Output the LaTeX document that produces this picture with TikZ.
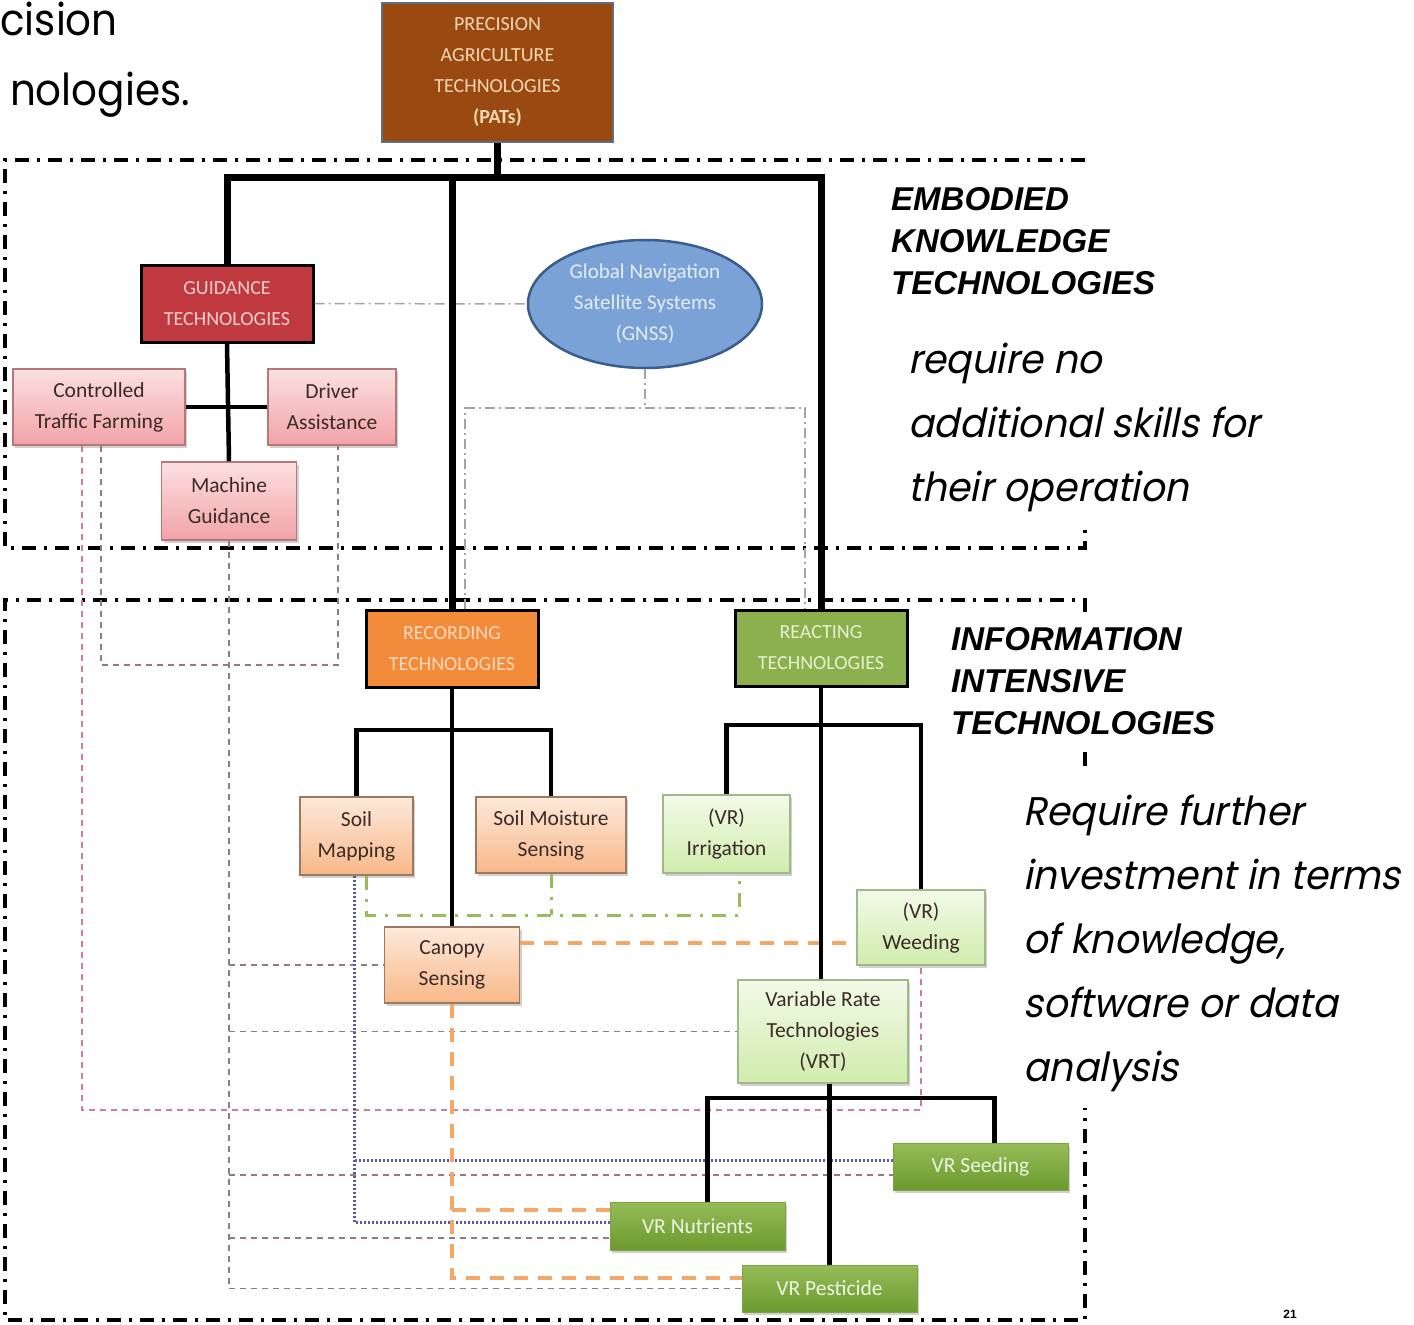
\documentclass[tikz,border=0pt]{standalone}
\usepackage{fontspec}
\setmainfont{Carlito}
\newfontfamily\headfont{Liberation Sans}
\newfontfamily\gothic[FakeStretch=0.92]{Poppins}
\newfontfamily\gothicit[FakeSlant=0.2,FakeStretch=0.95]{Poppins}
\usetikzlibrary{shadows,calc,shapes.geometric}

\definecolor{patsfill}{HTML}{9A4A10}
\definecolor{patsedge}{HTML}{5F6E80}
\definecolor{patstext}{HTML}{F4D7B5}
\definecolor{guidfill}{HTML}{C0393F}
\definecolor{guidtext}{HTML}{F8CFCF}
\definecolor{recfill}{HTML}{F28B3A}
\definecolor{rectext}{HTML}{FCDAC0}
\definecolor{reafill}{HTML}{8DB04F}
\definecolor{reatext}{HTML}{E4F0D0}
\definecolor{gnssfill}{HTML}{7AA2D6}
\definecolor{gnssedge}{HTML}{3C5C8C}
\definecolor{gnsstext}{HTML}{E4EDF8}
\definecolor{pinktop}{HTML}{FCE0E0}
\definecolor{pinkbot}{HTML}{F2A3A7}
\definecolor{pinkedge}{HTML}{B5787A}
\definecolor{peachtop}{HTML}{FDE9DA}
\definecolor{peachbot}{HTML}{F8B888}
\definecolor{peachedge}{HTML}{9C7A62}
\definecolor{lgtop}{HTML}{F2FAE8}
\definecolor{lgbot}{HTML}{D0ECAC}
\definecolor{lgedge}{HTML}{A2B88C}
\definecolor{dgtop}{HTML}{95BC58}
\definecolor{dgbot}{HTML}{6C9A2E}
\definecolor{dgtext}{HTML}{EEF5E2}
\definecolor{darktext}{HTML}{3A2A28}
\definecolor{pinkline}{HTML}{C98090}
\definecolor{mauveline}{HTML}{957888}
\definecolor{blueline}{HTML}{5858B0}
\definecolor{orangeline}{HTML}{F5A865}
\definecolor{greenline}{HTML}{9BBB59}
\definecolor{grayline}{HTML}{A4A4A4}

\begin{document}
\begin{tikzpicture}[x=1pt,y=-1pt,
  boxtext/.style={align=center, inner sep=0pt, font=\fontsize{21.5}{31}\selectfont},
  shade/.style={drop shadow={shadow xshift=2pt, shadow yshift=-3pt, opacity=0.3, fill=black!60}},
  headbox/.style={boxtext, rectangle, draw=black, line width=3pt},
  pinkbox/.style={boxtext, rectangle, shade, draw=pinkedge, line width=1.5pt, top color=pinktop, bottom color=pinkbot, text=darktext},
  peachbox/.style={boxtext, rectangle, shade, draw=peachedge, line width=1.5pt, top color=peachtop, bottom color=peachbot, text=darktext},
  lgbox/.style={boxtext, rectangle, shade, draw=lgedge, line width=1.5pt, top color=lgtop, bottom color=lgbot, text=darktext},
  dgbox/.style={boxtext, rectangle, shade, draw=dgbot!90, line width=0.8pt, top color=dgtop, bottom color=dgbot, text=dgtext},
  frame/.style={draw=black, line width=3.5pt, dash pattern=on 14pt off 8pt on 3pt off 8pt},
  mainline/.style={draw=black, line width=7pt},
  subline/.style={draw=black, line width=4.5pt},
  gnssline/.style={draw=grayline, line width=1.5pt, dash pattern=on 10pt off 4pt on 2pt off 4pt},
  pinkdash/.style={draw=pinkline, line width=1.8pt, dash pattern=on 6pt off 5pt},
  mauvedash/.style={draw=mauveline, line width=1.8pt, dash pattern=on 6pt off 5pt},
  bluedot/.style={draw=blueline, line width=3pt, dash pattern=on 2pt off 2pt},
  orangedash/.style={draw=orangeline, line width=3.5pt, dash pattern=on 14pt off 10pt},
  greendd/.style={draw=greenline, line width=3pt, dash pattern=on 14pt off 9pt on 3pt off 9pt},
  gothicline/.style={anchor=base west, inner sep=0pt, font=\gothicit\fontsize{40}{40}\selectfont},
  grouplabel/.style={anchor=base west, inner sep=0pt, font=\headfont\bfseries\itshape\fontsize{33}{33}\selectfont}
]
\useasboundingbox (0,0) rectangle (1414,1325);

% heading fragments at the top left
\node[anchor=base east, inner sep=0pt, font=\gothic\fontsize{44}{44}\selectfont] (h1) at (118,35) {cision};
\node[anchor=base east, inner sep=0pt, font=\gothic\fontsize{44}{44}\selectfont] (h2) at (190,105) {nologies.};

% group frames
\draw[frame] (1085,160) -- (5,160) -- (5,548) -- (1085,548) -- (1085,528);
\draw[frame] (1085,612) -- (1085,600) -- (5,600) -- (5,1320) -- (1085,1320) -- (1085,1108);
\draw[frame] (1085,752) -- (1085,766);

% nodes
\node[headbox, fill=patsfill, draw=patsedge, line width=2.5pt, text=patstext, minimum width=231pt, minimum height=139pt, font=\fontsize{20}{31}\selectfont] (pats) at (497.5,72.5) {PRECISION\\AGRICULTURE\\TECHNOLOGIES\\\textbf{(PATs)}};
\node[headbox, fill=guidfill, text=guidtext, minimum width=172pt, minimum height=77pt, font=\fontsize{20}{31}\selectfont] (guid) at (227,303.5) {GUIDANCE\\TECHNOLOGIES};
\node[pinkbox, minimum width=172pt, minimum height=76pt] (ctf) at (99,407) {Controlled\\Traffic Farming};
\node[pinkbox, minimum width=128pt, minimum height=76pt] (drv) at (332,407) {Driver\\Assistance};
\node[pinkbox, minimum width=135pt, minimum height=78pt] (mach) at (229,501) {Machine\\Guidance};
\node[ellipse, draw=gnssedge, line width=2.5pt, fill=gnssfill, text=gnsstext, minimum width=234pt, minimum height=128pt, inner sep=0pt, align=center, font=\fontsize{21}{31}\selectfont] (gnss) at (645,304) {Global Navigation\\Satellite Systems\\(GNSS)};
\node[headbox, fill=recfill, text=rectext, minimum width=172pt, minimum height=77pt, font=\fontsize{20}{31}\selectfont] (rec) at (452,648.5) {RECORDING\\TECHNOLOGIES};
\node[headbox, fill=reafill, text=reatext, minimum width=172pt, minimum height=76pt, font=\fontsize{20}{31}\selectfont] (rea) at (821,648) {REACTING\\TECHNOLOGIES};
\node[peachbox, minimum width=113pt, minimum height=78pt] (soilmap) at (356.5,836) {Soil\\Mapping};
\node[peachbox, minimum width=150pt, minimum height=76pt] (soilmoist) at (551,835) {Soil Moisture\\Sensing};
\node[lgbox, minimum width=127pt, minimum height=78pt] (irr) at (726.5,834) {(VR)\\Irrigation};
\node[lgbox, minimum width=128pt, minimum height=75pt] (weed) at (921,927.5) {(VR)\\Weeding};
\node[peachbox, minimum width=135pt, minimum height=76pt] (canopy) at (452,965) {Canopy\\Sensing};
\node[lgbox, minimum width=170pt, minimum height=103pt] (vrt) at (823,1031.5) {Variable Rate\\Technologies\\(VRT)};
\node[dgbox, minimum width=175pt, minimum height=47pt] (seed) at (980.5,1166.5) {VR Seeding};
\node[dgbox, minimum width=175pt, minimum height=48pt] (nutr) at (697.5,1226) {VR Nutrients};
\node[dgbox, minimum width=175pt, minimum height=47pt] (pest) at (829.5,1288.5) {VR Pesticide};

% side notes
\node[grouplabel] (e1) at (891,210) {EMBODIED};
\node[grouplabel] (e2) at (891,252) {KNOWLEDGE};
\node[grouplabel] (e3) at (891,294) {TECHNOLOGIES};
\node[gothicline] (r1) at (908,373) {require no};
\node[gothicline] (r2) at (908,437) {additional skills for};
\node[gothicline] (r3) at (908,501) {their operation};
\node[grouplabel] (i1) at (951,650) {INFORMATION};
\node[grouplabel] (i2) at (951,692) {INTENSIVE};
\node[grouplabel] (i3) at (951,734) {TECHNOLOGIES};
\node[gothicline] (q1) at (1023,825) {Require further};
\node[gothicline] (q2) at (1023,889) {investment in terms};
\node[gothicline] (q3) at (1023,953) {of knowledge,};
\node[gothicline] (q4) at (1023,1017) {software or data};
\node[gothicline] (q5) at (1023,1081) {analysis};
\node[anchor=north, inner sep=0pt, font=\headfont\bfseries\fontsize{12}{12}\selectfont] (pg) at (1290,1310) {21};

% links from the GNSS
\draw[gnssline] (guid.east) -- (gnss.west);
\coordinate (gj) at (645,408);
\draw[gnssline] (gnss.south) -- (gj);
\draw[gnssline] ([xshift=13pt]rec.north) |- (gj) -| ([xshift=-16pt]rea.north);

% cross links between the guidance technologies and the rest
\coordinate (pa) at (921,1110);
\draw[pinkdash] ([xshift=-17pt]ctf.south) |- (pa) -- (weed.south);
\coordinate (pb) at (338,665);
\draw[mauvedash] ([xshift=2pt]ctf.south) |- (pb) -- ([xshift=6pt]drv.south);
\draw[mauvedash] (mach.south) |- (pest.west);
\draw[mauvedash] (mach.south |- canopy.west) -- (canopy.west);
\draw[mauvedash] (mach.south |- vrt.west) -- (vrt.west);
\draw[mauvedash] (mach.south |- 0,1175) -- (seed.west |- 0,1175);
\draw[mauvedash] (mach.south |- 0,1238) -- (nutr.west |- 0,1238);

% soil mapping links
\draw[bluedot] ([xshift=-2pt]soilmap.south) |- (nutr.west |- 0,1222);
\draw[bluedot] ([xshift=-2pt]soilmap.south |- 0,1160) -- (seed.west |- 0,1160);
\draw[greendd] ([xshift=10pt]soilmap.south) |- ([xshift=13pt]irr.south |- 0,915) -- ([xshift=13pt]irr.south);
\draw[greendd] (soilmoist.south) -- (soilmoist.south |- 0,915);

% canopy sensing links
\draw[orangedash] (canopy.east |- 0,943) -- (weed.west |- 0,943);
\draw[orangedash] (canopy.south) |- (pest.west |- 0,1278);
\draw[orangedash] (canopy.south |- 0,1210) -- (nutr.west |- 0,1210);

% hierarchy
\coordinate (bus) at (497.5,177);
\draw[mainline] (pats.south) -- (bus);
\draw[mainline] (guid.north) |- (bus) -| (rea.north);
\draw[mainline] (rec.north) -- (rec.north |- bus);
\draw[subline] (guid.south) -- (mach.north);
\draw[subline] (ctf.east) -- (drv.west);
\draw[subline] (rec.south) -- (canopy.north);
\draw[subline] (soilmap.north) |- (452,730) -| (soilmoist.north);
\draw[subline] (rea.south) -- (rea.south |- vrt.north);
\draw[subline] (irr.north) |- (821,725) -| (weed.north);
\draw[subline] (vrt.south -| pest.north) -- (pest.north);
\draw[subline] ([xshift=10pt]nutr.north) |- (829,1098) -| ([xshift=14pt]seed.north);
\end{tikzpicture}
\end{document}
